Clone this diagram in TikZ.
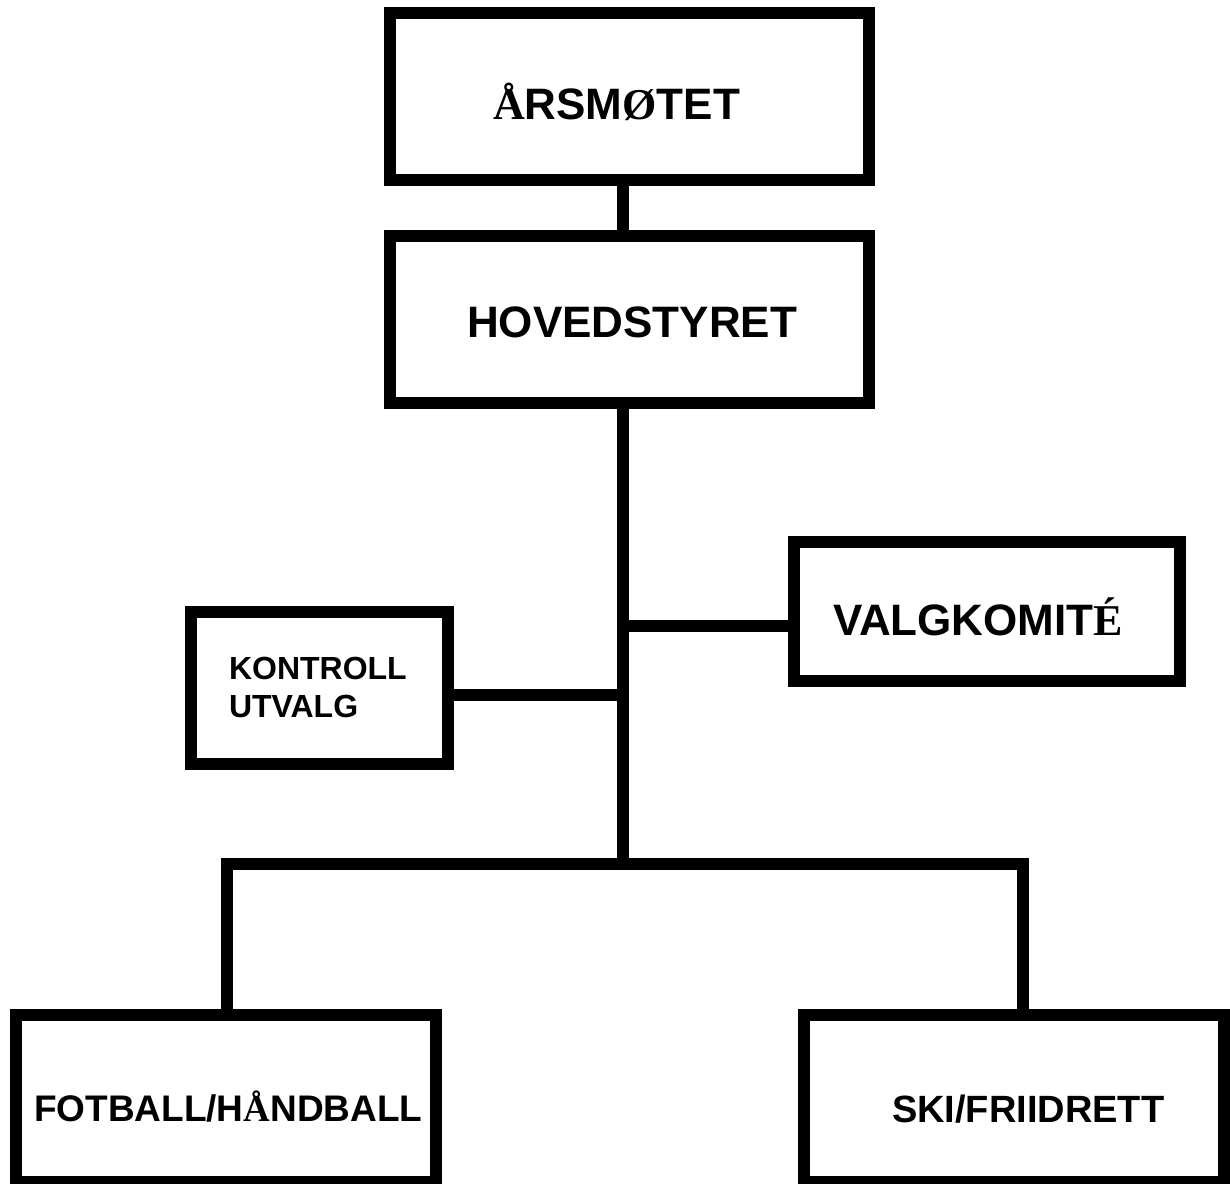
\documentclass[tikz,border=0pt]{standalone}
\usepackage{fontspec}
\setmainfont{Liberation Sans}
\newfontfamily\serfam{Liberation Serif}
\newcommand\sr[1]{{\serfam\bfseries #1}}
\begin{document}
\begin{tikzpicture}[x=1pt,y=-1pt,
  box/.style={draw=black,line width=12pt,line join=miter,rectangle,inner sep=0pt},
  conn/.style={draw=black,line width=12pt,line join=miter},
  lbl/.style={anchor=base west,inner sep=0pt,outer sep=0pt,font=\bfseries}]
\useasboundingbox (0,0) rectangle (1230,1183);
\fill[white] (0,0) rectangle (1230,1183);
% boxes
\node[box,minimum width=479pt,minimum height=167pt] (ars) at (629.5,96.5) {};
\node[box,minimum width=479pt,minimum height=167pt] (hov) at (629.5,319.5) {};
\node[box,minimum width=257pt,minimum height=152pt] (kon) at (319.5,688) {};
\node[box,minimum width=386pt,minimum height=139pt] (val) at (987,611.5) {};
\node[box,minimum width=420pt,minimum height=167pt] (fot) at (226,1098.5) {};
\node[box,minimum width=420pt,minimum height=167pt] (ski) at (1014,1098.5) {};
% junction coordinates
\coordinate (tee) at (623,864);
\coordinate (kj) at (623,695);
\coordinate (vj) at (623,625.5);
\coordinate (bl) at (226.5,864);
\coordinate (br) at (1022.5,864);
% connectors
\draw[conn] (tee |- ars.south) -- (tee |- hov.north);
\draw[conn] (tee |- hov.south) -- (tee);
\draw[conn] (kj -| kon.east) -- (kj);
\draw[conn] (vj) -- (vj -| val.west);
\draw[conn] (bl |- fot.north) -- (bl) -- (br) -- (br |- ski.north);
% labels
\node[lbl,font=\fontsize{44}{44}\selectfont\bfseries] (tars) at (493,119) {\sr{Å}RSM\sr{Ø}TET};
\node[lbl,font=\fontsize{44}{44}\selectfont\bfseries] (thov) at (467,337) {HOVEDSTYRET};
\node[lbl,font=\fontsize{32}{32}\selectfont\bfseries] (tkon1) at (229,679) {KONTROLL};
\node[lbl,font=\fontsize{32}{32}\selectfont\bfseries] (tkon2) at (229,717) {UTVALG};
\node[lbl,font=\fontsize{44}{44}\selectfont\bfseries] (tval) at (833,635) {VALGKOMIT\sr{É}};
\node[lbl,font=\fontsize{37}{37}\selectfont\bfseries] (tfot) at (34,1121) {FOTBALL/H\sr{Å}NDBALL};
\node[lbl,font=\fontsize{38}{38}\selectfont\bfseries] (tski) at (892,1122) {SKI/FRIIDRETT};
\end{tikzpicture}
\end{document}
